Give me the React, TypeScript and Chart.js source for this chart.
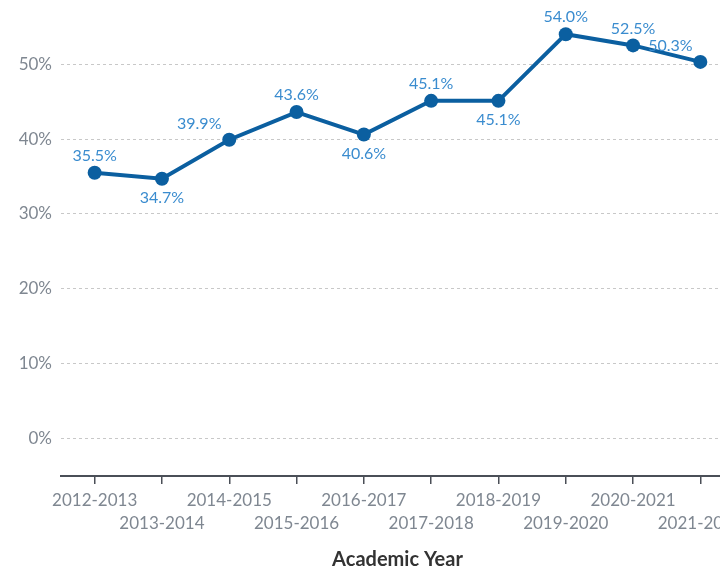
import React, { useEffect, useRef } from "react";
import { Chart, registerables } from "chart.js";

Chart.register(...registerables);

const years = [
  "2012-2013", "2013-2014", "2014-2015", "2015-2016", "2016-2017",
  "2017-2018", "2018-2019", "2019-2020", "2020-2021", "2021-2022",
];
const rates = [35.5, 34.7, 39.9, 43.6, 40.6, 45.1, 45.1, 54.0, 52.5, 50.3];
const labelPlacement = ["above", "below", "aboveLeft", "above", "below", "above", "below", "above", "above", "aboveLeft"];
const yTicks = [0, 10, 20, 30, 40, 50];

const FONT = "Lato, 'Open Sans', sans-serif";
const LINE = "#0b5fa0";
const LABEL = "#3a8ccf";
const GRAY = "#7f8791";

const valueLabels = {
  id: "valueLabels",
  afterDatasetsDraw(chart: any) {
    const ctx = chart.ctx;
    const meta = chart.getDatasetMeta(0);
    ctx.save();
    ctx.font = `16px ${FONT}`;
    ctx.fillStyle = LABEL;
    ctx.textAlign = "center";
    ctx.textBaseline = "middle";
    meta.data.forEach((pt: any, i: number) => {
      const place = labelPlacement[i];
      let dx = 0;
      let dy = -17;
      if (place === "below") dy = 19;
      if (place === "aboveLeft") { dx = -30; dy = -16; }
      ctx.fillText(rates[i].toFixed(1) + "%", pt.x + dx, pt.y + dy);
    });
    ctx.restore();
  },
};

export default function App() {
  const ref = useRef<HTMLCanvasElement>(null);
  useEffect(() => {
    if (!ref.current) return;
    const chart = new Chart(ref.current, {
      type: "line",
      data: {
        labels: years,
        datasets: [
          {
            data: rates,
            borderColor: LINE,
            backgroundColor: LINE,
            borderWidth: 4,
            pointRadius: 7,
            pointHoverRadius: 7,
            pointBackgroundColor: LINE,
            pointBorderWidth: 0,
            tension: 0,
          },
        ],
      },
      options: {
        animation: false,
        responsive: true,
        maintainAspectRatio: false,
        layout: { padding: { top: 0, right: 16, left: 0, bottom: 0 } },
        plugins: { legend: { display: false }, tooltip: { enabled: false } },
        scales: {
          x: {
            offset: true,
            grid: {
              offset: false,
              drawOnChartArea: false,
              drawTicks: true,
              tickLength: 8,
              color: "#4a4f57",
              lineWidth: 1.5,
            },
            border: { display: true, color: "#4a4f57", width: 2 },
            ticks: {
              autoSkip: false,
              maxRotation: 0,
              minRotation: 0,
              padding: 5,
              color: GRAY,
              font: { family: FONT, size: 17, lineHeight: 1.35 },
              callback: (_v: any, i: number) => (i % 2 === 0 ? [years[i]] : ["", years[i]]),
            },
            title: {
              display: true,
              text: "Academic Year",
              color: "#333333",
              font: { family: FONT, size: 20, weight: "bold" },
              padding: { top: 14, bottom: 0 },
            },
            afterFit: (s: any) => { s.height = 96; s.paddingLeft = 0; s.paddingRight = 0; },
          },
          y: {
            min: -5,
            max: 56,
            afterBuildTicks: (s: any) => { s.ticks = yTicks.map((v) => ({ value: v })); },
            grid: { color: "#c8c8c8", drawTicks: false, lineWidth: 1 },
            border: { display: false, dash: [3, 3] },
            ticks: {
              padding: 9,
              color: GRAY,
              font: { family: FONT, size: 17 },
              callback: (v: any) => v + "%",
            },
            afterFit: (s: any) => { s.width = 61; },
          },
        },
      },
      plugins: [valueLabels],
    });
    return () => chart.destroy();
  }, []);
  return (
    <div style={{ position: "fixed", left: 0, top: 0, width: 750, height: 572, background: "#fff" }}>
      <canvas ref={ref} />
    </div>
  );
}
